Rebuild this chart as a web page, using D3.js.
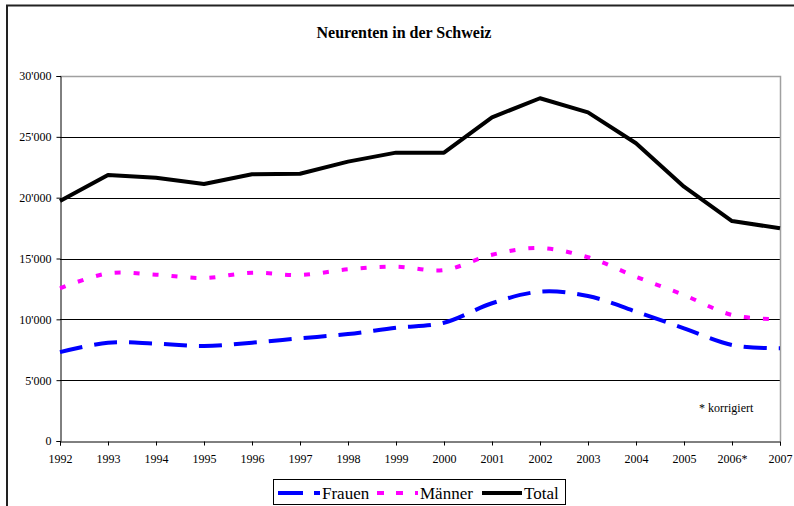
<!DOCTYPE html>
<html>
<head>
<meta charset="utf-8">
<script src="https://cdn.jsdelivr.net/npm/d3@7"></script>
<style>
  body { margin:0; padding:0; background:#fff; }
  svg text { font-family: "Liberation Serif", "DejaVu Serif", serif !important; fill:#000; }
</style>
</head>
<body>
<script>

// chart values
var years   = ["1992","1993","1994","1995","1996","1997","1998","1999","2000","2001","2002","2003","2004","2005","2006*","2007"];
var frauen  = [7300, 8080, 8000, 7810, 8080, 8440, 8790, 9310, 9720, 11320, 12270, 11920, 10630, 9260, 7890, 7620];
var maenner = [12550, 13780, 13670, 13400, 13830, 13640, 14110, 14330, 14050, 15310, 15860, 15100, 13500, 12000, 10360, 10000];
var total   = [19720, 21860, 21640, 21120, 21920, 21970, 22960, 23700, 23700, 26600, 28170, 27010, 24470, 20900, 18080, 17480];
var yTicks  = [0, 5000, 10000, 15000, 20000, 25000, 30000];

var windowSettings = {
  width : 794,//px
  height : 506,//px
};

var graphSettings = {
  left : 60,//px
  right : 780,//px
  top : 76,//px
  bottom : 441,//px
  yMax : 30000,
};

var svg = d3.select("body").append("svg")
  .attr("width", windowSettings.width)
  .attr("height", windowSettings.height);

// outer frame (only left and top show, rest is cut)
svg.append("path")
  .attr("d", "M7,506 L7,5.5 L794,5.5")
  .attr("fill", "none")
  .attr("stroke", "#222")
  .attr("stroke-width", 2);

svg.append("text")
  .attr("x", 404).attr("y", 38)
  .attr("text-anchor", "middle")
  .attr("font-size", "16px")
  .attr("font-weight", "bold")
  .text("Neurenten in der Schweiz");

var x = d3.scalePoint()
  .domain(years)
  .range([graphSettings.left, graphSettings.right]);

var y = d3.scaleLinear()
  .domain([0, graphSettings.yMax])
  .range([graphSettings.bottom, graphSettings.top]);

// grid
svg.append("g")
  .selectAll("line")
  .data(yTicks.filter(function(d){ return d > 0 && d < graphSettings.yMax; }))
  .join("line")
  .attr("x1", graphSettings.left).attr("x2", graphSettings.right)
  .attr("y1", function(d){ return Math.round(y(d)) + 0.5; })
  .attr("y2", function(d){ return Math.round(y(d)) + 0.5; })
  .attr("stroke", "#000")
  .attr("stroke-width", 1);

// plot frame top + right (gray)
svg.append("path")
  .attr("d", "M" + graphSettings.left + "," + (graphSettings.top + 0.5) + " L" + (graphSettings.right + 0.5) + "," + (graphSettings.top + 0.5) + " L" + (graphSettings.right + 0.5) + "," + graphSettings.bottom)
  .attr("fill", "none")
  .attr("stroke", "#a0a0a0")
  .attr("stroke-width", 1.5);

var fmt = function(d){ return d3.format(",")(d).replace(/,/g, "'"); };

var yAxis = d3.axisLeft(y).tickValues(yTicks).tickFormat(fmt).tickSize(4).tickPadding(5);
var gy = svg.append("g")
  .attr("transform", "translate(" + (graphSettings.left + 0.5) + ",0)")
  .call(yAxis);

var xAxis = d3.axisBottom(x).tickSize(4).tickPadding(9);
var gx = svg.append("g")
  .attr("transform", "translate(0," + (graphSettings.bottom + 0.5) + ")")
  .call(xAxis);

[gx, gy].forEach(function(g){
  g.attr("font-family", null);
  g.select(".domain").attr("stroke", "#000").attr("stroke-width", 1);
  g.selectAll(".tick line").attr("stroke", "#000");
  g.selectAll("text").attr("font-size", "12px").attr("fill", "#000");
});

// series
var series = [
  { name : "Frauen", values : frauen,  color : "#0000ff", dash : "23,12", legendDash : "25,11", curve : d3.curveCardinal.tension(0) },
  { name : "Männer", values : maenner, color : "#ff00ff", dash : "6,13",  legendDash : "7,12",  curve : d3.curveCardinal.tension(0) },
  { name : "Total",  values : total,   color : "#000000", dash : null,    legendDash : null,    curve : d3.curveLinear },
];

series.forEach(function(s){
  var line = d3.line()
    .x(function(d,i){ return x(years[i]); })
    .y(function(d){ return y(d); })
    .curve(s.curve);
  svg.append("path")
    .datum(s.values)
    .attr("d", line)
    .attr("fill", "none")
    .attr("stroke", s.color)
    .attr("stroke-width", 4)
    .attr("stroke-dasharray", s.dash)
    .attr("stroke-linejoin", "round");
});

svg.append("text")
  .attr("x", 699).attr("y", 412)
  .attr("font-size", "12px")
  .text("* korrigiert");

// legend
var legend = svg.append("g");
legend.append("rect")
  .attr("x", 273.5).attr("y", 479.5)
  .attr("width", 292).attr("height", 25)
  .attr("fill", "#fff")
  .attr("stroke", "#000");

var legendPos = [
  { x1 : 278, x2 : 320, tx : 322 },
  { x1 : 377, x2 : 418, tx : 420 },
  { x1 : 482, x2 : 522, tx : 524 },
];

series.forEach(function(s, i){
  var p = legendPos[i];
  legend.append("line")
    .attr("x1", p.x1).attr("x2", p.x2)
    .attr("y1", 493).attr("y2", 493)
    .attr("stroke", s.color)
    .attr("stroke-width", 4)
    .attr("stroke-dasharray", s.legendDash);
  legend.append("text")
    .attr("x", p.tx).attr("y", 499)
    .attr("font-size", "17px")
    .text(s.name);
});

</script>
</body>
</html>
